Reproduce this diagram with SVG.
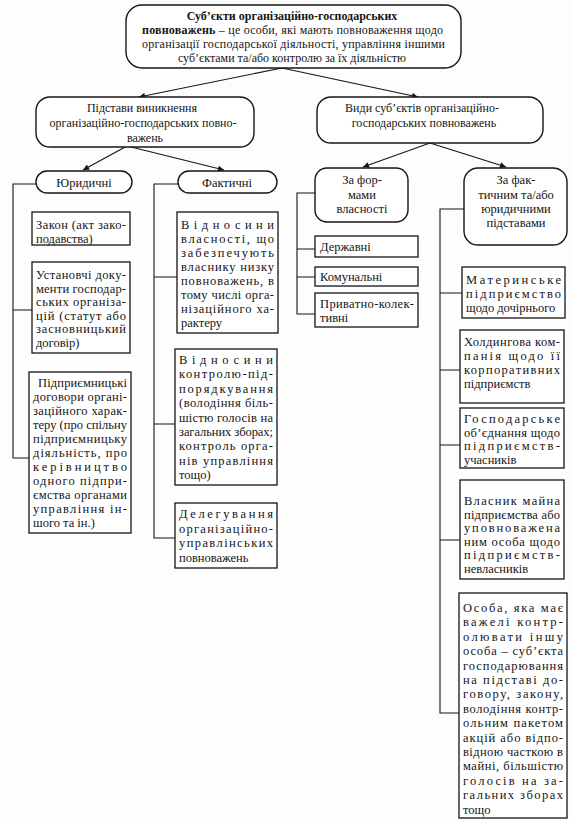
<svg xmlns="http://www.w3.org/2000/svg" width="573" height="822" viewBox="0 0 573 822">
<defs>
<style>
.bg{fill:#fdfdfd}
.box{fill:#fff;stroke:#151515;stroke-width:1.3}
.rbox{fill:#fff;stroke:#151515;stroke-width:1.4}
.t{font-family:"Liberation Serif","DejaVu Serif",serif;font-size:12.5px;fill:#151515}
.h{font-family:"Liberation Serif","DejaVu Serif",serif;font-size:12px;fill:#151515}
.b{font-weight:bold}
.c{text-anchor:middle}
.con{stroke:#151515;stroke-width:1.1;fill:none}
</style>
<marker id="ah" viewBox="0 0 10 10" refX="10" refY="5" markerWidth="9" markerHeight="6" markerUnits="userSpaceOnUse" orient="auto">
<path d="M0,0 L10,5 L0,10 z" fill="#151515"/>
</marker>
</defs>
<rect class="bg" x="0" y="0" width="573" height="822"/>

<g id="connectors">
<line class="con" x1="282" y1="68" x2="139" y2="97" marker-end="url(#ah)"/>
<line class="con" x1="282" y1="68" x2="418" y2="97" marker-end="url(#ah)"/>
<line class="con" x1="127" y1="146" x2="83" y2="170" marker-end="url(#ah)"/>
<line class="con" x1="127" y1="146" x2="224" y2="170" marker-end="url(#ah)"/>
<line class="con" x1="430" y1="143" x2="363" y2="167" marker-end="url(#ah)"/>
<line class="con" x1="430" y1="143" x2="506" y2="167" marker-end="url(#ah)"/>
<path class="con" d="M36,184 H13 V458 H29 M13,310 H32"/>
<path class="con" d="M178,184 H154 V538 H175 M154,277 H177 M154,424 H175"/>
<path class="con" d="M315,193 H297 V314 H315 M297,249 H315 M297,277 H315"/>
<path class="con" d="M464,209 H440 V713 H459 M440,293 H462 M440,370 H460 M440,445 H460 M440,540 H460"/>
</g>

<g id="n-top">
<rect class="rbox" x="126" y="5" width="335" height="63" rx="16"/>
<text class="h b c" x="292" y="20">Суб’єкти організаційно-господарських</text>
<text class="h" x="142" y="34" textLength="301" lengthAdjust="spacing"><tspan class="b">повноважень</tspan> – це особи, які мають повноваження щодо</text>
<text class="h" x="142" y="48" textLength="303" lengthAdjust="spacing">організації господарської діяльності, управління іншими</text>
<text class="h c" x="292" y="62">суб’єктами та/або контролю за їх діяльністю</text>
</g>

<g id="n-pidstavy">
<rect class="rbox" x="36" y="97" width="218" height="50" rx="14"/>
<text class="h c" x="142" y="112">Підстави виникнення</text>
<text class="h c" x="143" y="127">організаційно-господарських повно-</text>
<text class="h c" x="145" y="142">важень</text>
</g>

<g id="n-vydy">
<rect class="rbox" x="317" y="97" width="226" height="46" rx="14"/>
<text class="h c" x="422" y="112">Види суб’єктів організаційно-</text>
<text class="h c" x="424" y="127">господарських повноважень</text>
</g>

<g id="n-yurydychni">
<rect class="rbox" x="36" y="171" width="96" height="22" rx="11"/>
<text class="t c" x="84" y="187">Юридичні</text>
</g>

<g id="n-faktychni">
<rect class="rbox" x="178" y="171" width="99" height="22" rx="11"/>
<text class="t c" x="227" y="187">Фактичні</text>
</g>

<g id="n-forma">
<rect class="rbox" x="315" y="168" width="93" height="54" rx="12"/>
<text class="t c" x="362" y="184">За фор-</text>
<text class="t c" x="362" y="199">мами</text>
<text class="t c" x="362" y="213">власності</text>
</g>

<g id="n-fakt-pidstavy">
<rect class="rbox" x="464" y="168" width="103" height="77" rx="14"/>
<text class="t c" x="516" y="184">За фак-</text>
<text class="t c" x="516" y="199">тичним та/або</text>
<text class="t c" x="516" y="213">юридичними</text>
<text class="t c" x="516" y="227">підставами</text>
</g>

<g id="n-zakon">
<rect class="box" x="32" y="212" width="98" height="33"/>
<text class="t" x="36" y="229" textLength="90" lengthAdjust="spacing">Закон (акт зако-</text>
<text class="t" x="36" y="243">подавства)</text>
</g>

<g id="n-ustanovchi">
<rect class="box" x="32" y="262" width="98" height="91"/>
<text class="t" x="36" y="279" textLength="90" lengthAdjust="spacing">Установчі доку-</text>
<text class="t" x="36" y="292.6" textLength="90" lengthAdjust="spacing">менти господар-</text>
<text class="t" x="36" y="306.2" textLength="90" lengthAdjust="spacing">ських організа-</text>
<text class="t" x="36" y="319.8" textLength="90" lengthAdjust="spacing">цій (статут або</text>
<text class="t" x="36" y="333.4" textLength="90" lengthAdjust="spacing">засновницький</text>
<text class="t" x="36" y="347">договір)</text>
</g>

<g id="n-pidpryiemnytski">
<rect class="box" x="29" y="372" width="102" height="161"/>
<text class="t" x="38" y="387" textLength="89" lengthAdjust="spacing">Підприємницькі</text>
<text class="t" x="33" y="401" textLength="94" lengthAdjust="spacing">договори органі-</text>
<text class="t" x="33" y="415" textLength="94" lengthAdjust="spacing">заційного харак-</text>
<text class="t" x="33" y="429" textLength="94" lengthAdjust="spacing">теру (про спільну</text>
<text class="t" x="33" y="443" textLength="94" lengthAdjust="spacing">підприємницьку</text>
<text class="t" x="33" y="457" textLength="94" lengthAdjust="spacing">діяльність, про</text>
<text class="t" x="33" y="471" textLength="94" lengthAdjust="spacing">керівництво</text>
<text class="t" x="33" y="485" textLength="94" lengthAdjust="spacing">одного підпри-</text>
<text class="t" x="33" y="499" textLength="94" lengthAdjust="spacing">ємства органами</text>
<text class="t" x="33" y="513" textLength="94" lengthAdjust="spacing">управління ін-</text>
<text class="t" x="33" y="527">шого та ін.)</text>
</g>

<g id="n-vlasnist">
<rect class="box" x="177" y="212" width="101" height="121"/>
<text class="t" x="181" y="229" textLength="93" lengthAdjust="spacing">Відносини</text>
<text class="t" x="181" y="243" textLength="93" lengthAdjust="spacing">власності, що</text>
<text class="t" x="181" y="257" textLength="93" lengthAdjust="spacing">забезпечують</text>
<text class="t" x="181" y="271" textLength="93" lengthAdjust="spacing">власнику низку</text>
<text class="t" x="181" y="285" textLength="93" lengthAdjust="spacing">повноважень, в</text>
<text class="t" x="181" y="299" textLength="93" lengthAdjust="spacing">тому числі орга-</text>
<text class="t" x="181" y="313" textLength="93" lengthAdjust="spacing">нізаційного ха-</text>
<text class="t" x="181" y="327">рактеру</text>
</g>

<g id="n-kontrol">
<rect class="box" x="175" y="349" width="102" height="136"/>
<text class="t" x="179" y="364" textLength="94" lengthAdjust="spacing">Відносини</text>
<text class="t" x="179" y="378.4" textLength="94" lengthAdjust="spacing">контролю-під-</text>
<text class="t" x="179" y="392.8" textLength="94" lengthAdjust="spacing">порядкування</text>
<text class="t" x="179" y="407.2" textLength="94" lengthAdjust="spacing">(володіння біль-</text>
<text class="t" x="179" y="421.6" textLength="94" lengthAdjust="spacing">шістю голосів на</text>
<text class="t" x="179" y="436" textLength="94" lengthAdjust="spacing">загальних зборах;</text>
<text class="t" x="179" y="450.4" textLength="94" lengthAdjust="spacing">контроль орга-</text>
<text class="t" x="179" y="464.8" textLength="94" lengthAdjust="spacing">нів управління</text>
<text class="t" x="179" y="479.2">тощо)</text>
</g>

<g id="n-delehuvannia">
<rect class="box" x="175" y="503" width="102" height="65"/>
<text class="t" x="179" y="518" textLength="94" lengthAdjust="spacing">Делегування</text>
<text class="t" x="179" y="532.5" textLength="94" lengthAdjust="spacing">організаційно-</text>
<text class="t" x="179" y="547" textLength="94" lengthAdjust="spacing">управлінських</text>
<text class="t" x="179" y="561.5">повноважень</text>
</g>

<g id="n-derzhavni">
<rect class="box" x="315" y="236" width="103" height="21"/>
<text class="t" x="320" y="251">Державні</text>
</g>

<g id="n-komunalni">
<rect class="box" x="315" y="267" width="103" height="19"/>
<text class="t" x="320" y="281">Комунальні</text>
</g>

<g id="n-pryvatno">
<rect class="box" x="315" y="293" width="103" height="34"/>
<text class="t" x="320" y="308" textLength="94" lengthAdjust="spacing">Приватно-колек-</text>
<text class="t" x="320" y="322">тивні</text>
</g>

<g id="n-materynske">
<rect class="box" x="462" y="267" width="103" height="51"/>
<text class="t" x="466" y="284" textLength="95" lengthAdjust="spacing">Материнське</text>
<text class="t" x="466" y="298" textLength="95" lengthAdjust="spacing">підприємство</text>
<text class="t" x="466" y="312">щодо дочірнього</text>
</g>

<g id="n-kholdynh">
<rect class="box" x="460" y="330" width="104" height="73"/>
<text class="t" x="464" y="346" textLength="96" lengthAdjust="spacing">Холдингова ком-</text>
<text class="t" x="464" y="360" textLength="96" lengthAdjust="spacing">панія щодо її</text>
<text class="t" x="464" y="374" textLength="96" lengthAdjust="spacing">корпоративних</text>
<text class="t" x="464" y="388">підприємств</text>
</g>

<g id="n-obiednannia">
<rect class="box" x="460" y="408" width="104" height="60"/>
<text class="t" x="464" y="423" textLength="96" lengthAdjust="spacing">Господарське</text>
<text class="t" x="464" y="436.5" textLength="96" lengthAdjust="spacing">об’єднання щодо</text>
<text class="t" x="464" y="450" textLength="96" lengthAdjust="spacing">підприємств-</text>
<text class="t" x="464" y="463.5">учасників</text>
</g>

<g id="n-vlasnyk">
<rect class="box" x="460" y="480" width="104" height="99"/>
<text class="t" x="464" y="505" textLength="96" lengthAdjust="spacing">Власник майна</text>
<text class="t" x="464" y="518.5" textLength="96" lengthAdjust="spacing">підприємства або</text>
<text class="t" x="464" y="532" textLength="96" lengthAdjust="spacing">уповноважена</text>
<text class="t" x="464" y="545.5" textLength="96" lengthAdjust="spacing">ним особа щодо</text>
<text class="t" x="464" y="559" textLength="96" lengthAdjust="spacing">підприємств-</text>
<text class="t" x="464" y="572.5">невласників</text>
</g>

<g id="n-osoba">
<rect class="box" x="459" y="593" width="108" height="225"/>
<text class="t" x="463" y="612" textLength="100" lengthAdjust="spacing">Особа, яка має</text>
<text class="t" x="463" y="626.4" textLength="100" lengthAdjust="spacing">важелі контр-</text>
<text class="t" x="463" y="640.8" textLength="100" lengthAdjust="spacing">олювати іншу</text>
<text class="t" x="463" y="655.2" textLength="100" lengthAdjust="spacing">особа – суб’єкта</text>
<text class="t" x="463" y="669.6" textLength="100" lengthAdjust="spacing">господарювання</text>
<text class="t" x="463" y="684" textLength="100" lengthAdjust="spacing">на підставі до-</text>
<text class="t" x="463" y="698.4" textLength="100" lengthAdjust="spacing">говору, закону,</text>
<text class="t" x="463" y="712.8" textLength="100" lengthAdjust="spacing">володіння контр-</text>
<text class="t" x="463" y="727.2" textLength="100" lengthAdjust="spacing">ольним пакетом</text>
<text class="t" x="463" y="741.6" textLength="100" lengthAdjust="spacing">акцій або відпо-</text>
<text class="t" x="463" y="756" textLength="100" lengthAdjust="spacing">відною часткою в</text>
<text class="t" x="463" y="770.4" textLength="100" lengthAdjust="spacing">майні, більшістю</text>
<text class="t" x="463" y="784.8" textLength="100" lengthAdjust="spacing">голосів на за-</text>
<text class="t" x="463" y="799.2" textLength="100" lengthAdjust="spacing">гальних зборах</text>
<text class="t" x="463" y="813.6">тощо</text>
</g>
</svg>
